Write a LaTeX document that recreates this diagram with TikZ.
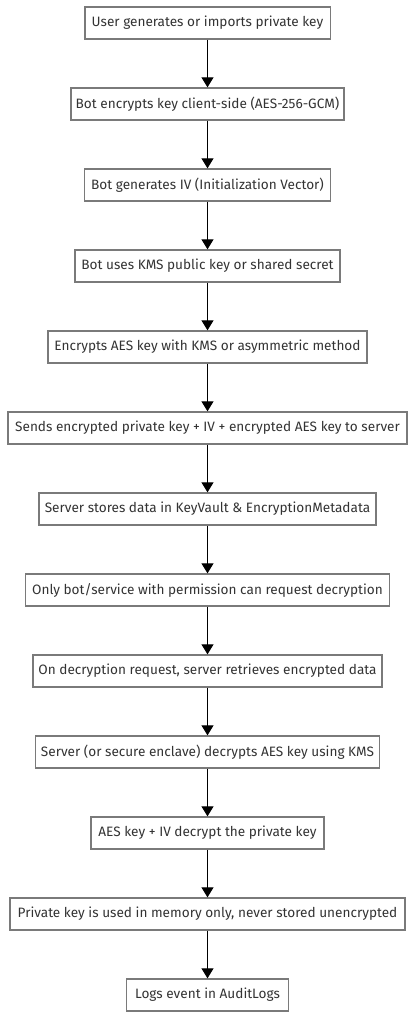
\documentclass[tikz,border=0pt]{standalone}
\usepackage{fontspec}
\setmainfont{Fira Sans}
\usetikzlibrary{arrows.meta}
\definecolor{boxline}{HTML}{7A7A7A}
\definecolor{txt}{HTML}{333333}
\begin{document}
\begin{tikzpicture}[x=0.75pt,y=-0.75pt,
  stepbox/.style={draw=boxline,line width=1pt,fill=white,text=txt,minimum height=24pt,inner sep=0pt,font=\fontsize{10.2pt}{12pt}\selectfont},
  flow/.style={draw=black,line width=0.8pt,-{Triangle[width=9pt,length=7.5pt]}}]
\useasboundingbox (0,0) rectangle (415,1019);
\def\cx{207.5}
\node[stepbox,minimum width=184pt] (n1) at (\cx,23) {User generates or imports private key};
\node[stepbox,minimum width=204.75pt] (n2) at (\cx,104) {Bot encrypts key client-side (AES-256-GCM)};
\node[stepbox,minimum width=184.5pt] (n3) at (\cx,185) {Bot generates IV (Initialization Vector)};
\node[stepbox,minimum width=198.75pt] (n4) at (\cx,266) {Bot uses KMS public key or shared secret};
\node[stepbox,minimum width=239.25pt] (n5) at (\cx,347) {Encrypts AES key with KMS or asymmetric method};
\node[stepbox,minimum width=299.25pt] (n6) at (\cx,428) {Sends encrypted private key + IV + encrypted AES key to server};
\node[stepbox,minimum width=252.75pt] (n7) at (\cx,509) {Server stores data in KeyVault \& EncryptionMetadata};
\node[stepbox,minimum width=273pt] (n8) at (\cx,590) {Only bot/service with permission can request decryption};
\node[stepbox,minimum width=261.75pt] (n9) at (\cx,671) {On decryption request, server retrieves encrypted data};
\node[stepbox,minimum width=258pt] (n10) at (\cx,752) {Server (or secure enclave) decrypts AES key using KMS};
\node[stepbox,minimum width=174.75pt] (n11) at (\cx,833) {AES key + IV decrypt the private key};
\node[stepbox,minimum width=296.25pt] (n12) at (\cx,914) {Private key is used in memory only, never stored unencrypted};
\node[stepbox,minimum width=121.5pt] (n13) at (\cx,995) {Logs event in AuditLogs};
\foreach \a/\b in {n1/n2,n2/n3,n3/n4,n4/n5,n5/n6,n6/n7,n7/n8,n8/n9,n9/n10,n10/n11,n11/n12,n12/n13}
  \draw[flow] (\a) -- (\b);
\end{tikzpicture}
\end{document}
